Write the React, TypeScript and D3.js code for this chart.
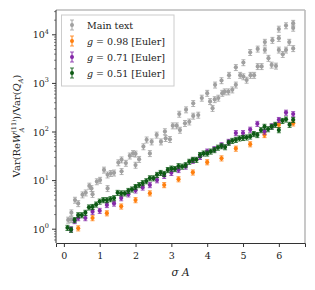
import { useRef, useEffect } from "react";
import * as d3 from "d3";

// gray "main text" points: [sigmaA, log10 ratio]
const mainX = [0.12, 0.21, 0.2, 0.31, 0.4, 0.52, 0.61, 0.71, 0.77, 0.8, 0.92, 1.01, 1.12, 1.22, 1.22, 1.31, 1.4, 1.52, 1.61, 1.61, 1.73, 1.84, 1.93, 2.0, 2.0, 2.1, 2.22, 2.31, 2.4, 2.45, 2.59, 2.71, 2.82, 2.84, 2.96, 3.04, 3.15, 3.24, 3.22, 3.41, 3.38, 3.5, 3.61, 3.61, 3.75, 3.85, 4.0, 4.08, 4.15, 4.21, 4.22, 4.31, 4.4, 4.42, 4.49, 4.61, 4.59, 4.7, 4.8, 4.8, 4.92, 5.01, 5.01, 5.1, 5.2, 5.21, 5.31, 5.41, 5.41, 5.52, 5.61, 5.61, 5.71, 5.82, 5.8, 5.92, 6.0, 6.0, 6.0, 6.11, 6.2, 6.2, 6.29, 6.4, 6.4, 6.4];
const mainLog = [0.19, 0.34, 0.2, 0.6, 0.53, 0.71, 0.75, 0.89, 0.84, 0.72, 0.98, 1.01, 1.22, 1.12, 0.84, 1.15, 1.16, 1.37, 1.43, 1.19, 1.36, 1.51, 1.56, 1.55, 1.32, 1.44, 1.7, 1.84, 1.56, 1.8, 1.94, 1.8, 2.01, 1.87, 1.85, 2.13, 2.13, 2.04, 2.37, 2.46, 2.18, 2.21, 2.59, 2.33, 2.35, 2.7, 2.8, 2.63, 2.49, 2.67, 2.97, 2.7, 3.06, 2.8, 2.83, 3.17, 2.83, 2.87, 2.97, 3.33, 3.17, 3.43, 3.14, 3.07, 3.64, 3.17, 3.17, 3.71, 3.35, 3.35, 3.85, 3.69, 3.52, 3.89, 3.38, 3.36, 4.12, 3.93, 3.69, 3.6, 4.19, 3.69, 3.85, 4.24, 4.14, 3.72];

// g = 0.98 [Euler]
const orangeX = [0.4, 0.8, 1.2, 1.6, 2.0, 2.4, 2.8, 3.2, 3.6, 4.0, 4.4, 4.8, 5.2, 5.6, 6.0, 6.4];
const orangeLog = [0.02, 0.23, 0.33, 0.47, 0.6, 0.74, 0.91, 1.03, 1.17, 1.38, 1.46, 1.66, 1.75, 1.94, 2.15, 2.18];

// g = 0.71 [Euler]
const purpleX = [0.2, 0.3, 0.4, 0.6, 0.8, 1.0, 1.2, 1.4, 1.6, 1.8, 2.0, 2.2, 2.4, 2.6, 2.8, 3.0, 3.2, 3.4, 3.6, 3.8, 4.0, 4.2, 4.4, 4.6, 4.8, 5.0, 5.2, 5.4, 5.6, 5.8, 6.0, 6.2, 6.4];
const purpleLog = [0.0, 0.17, 0.23, 0.23, 0.36, 0.38, 0.5, 0.53, 0.64, 0.72, 0.8, 0.86, 0.91, 1.01, 1.1, 1.16, 1.22, 1.29, 1.41, 1.49, 1.6, 1.65, 1.73, 1.8, 1.98, 1.98, 2.05, 2.17, 2.01, 2.12, 2.25, 2.4, 2.37];

// g = 0.51 [Euler]
const greenX = [0.1, 0.2, 0.3, 0.4, 0.5, 0.6, 0.7, 0.8, 0.9, 1.0, 1.1, 1.2, 1.3, 1.4, 1.5, 1.6, 1.7, 1.8, 1.9, 2.0, 2.1, 2.2, 2.3, 2.4, 2.5, 2.6, 2.7, 2.8, 2.9, 3.0, 3.1, 3.2, 3.3, 3.4, 3.5, 3.6, 3.7, 3.8, 3.9, 4.0, 4.1, 4.2, 4.3, 4.4, 4.5, 4.6, 4.7, 4.8, 4.9, 5.0, 5.1, 5.2, 5.3, 5.4, 5.5, 5.6, 5.7, 5.8, 5.9, 6.0, 6.1, 6.2, 6.3, 6.4];
const greenLog = [0.03, -0.01, 0.19, 0.29, 0.29, 0.34, 0.45, 0.46, 0.51, 0.57, 0.6, 0.6, 0.62, 0.64, 0.75, 0.74, 0.74, 0.79, 0.82, 0.87, 0.91, 0.95, 0.99, 1.05, 1.05, 1.12, 1.16, 1.14, 1.22, 1.25, 1.24, 1.3, 1.29, 1.32, 1.39, 1.43, 1.43, 1.53, 1.56, 1.56, 1.6, 1.63, 1.68, 1.71, 1.69, 1.78, 1.82, 1.84, 1.87, 1.88, 1.89, 1.91, 1.96, 1.94, 2.04, 2.11, 2.06, 2.11, 2.15, 2.04, 2.23, 2.26, 2.15, 2.25];

const seriesNames = ["Main text", "g = 0.98 [Euler]", "g = 0.71 [Euler]", "g = 0.51 [Euler]"];
const seriesColors = ["#a0a0a0", "#ff7f0e", "#8428a8", "#0d5a14"];
const relErr = [0.14, 0.12, 0.12, 0.12];

const xTicks = [0, 1, 2, 3, 4, 5, 6];
const yExps = [0, 1, 2, 3, 4];

const W = 315;
const H = 290;
const FONT = "'DejaVu Serif', serif";

export default function App() {
  const svgRef = useRef<SVGSVGElement>(null);

  useEffect(() => {
    if (!svgRef.current) return;
    const svg = d3.select(svgRef.current);
    svg.selectAll("*").remove();

    const m = { left: 56, right: 305, top: 10, bottom: 243 };
    const x = d3.scaleLinear().domain([-0.22, 6.73]).range([m.left, m.right]);
    const y = d3.scaleLog().domain([0.52, 32400]).range([m.bottom, m.top]);

    const series = [
      { xs: mainX, ls: mainLog },
      { xs: orangeX, ls: orangeLog },
      { xs: purpleX, ls: purpleLog },
      { xs: greenX, ls: greenLog },
    ];

    // data
    series.forEach((s, si) => {
      const g = svg.append("g").attr("fill", seriesColors[si]).attr("stroke", seriesColors[si]);
      s.xs.forEach((xv, i) => {
        const v = Math.pow(10, s.ls[i]);
        const cx = x(xv);
        const y0 = y(v * (1 - relErr[si]));
        const y1 = y(v * (1 + relErr[si]));
        g.append("line").attr("x1", cx).attr("x2", cx).attr("y1", y0).attr("y2", y1).attr("stroke-width", 1);
        g.append("line").attr("x1", cx - 2).attr("x2", cx + 2).attr("y1", y0).attr("y2", y0).attr("stroke-width", 0.8);
        g.append("line").attr("x1", cx - 2).attr("x2", cx + 2).attr("y1", y1).attr("y2", y1).attr("stroke-width", 0.8);
        g.append("circle").attr("cx", cx).attr("cy", y(v)).attr("r", 2.1).attr("stroke", "none");
      });
    });

    // frame: top/right light, left/bottom dark
    svg.append("line").attr("x1", m.left).attr("x2", m.right).attr("y1", m.top).attr("y2", m.top)
      .attr("stroke", "#bbbbbb").attr("stroke-width", 1.6);
    svg.append("line").attr("x1", m.right).attr("x2", m.right).attr("y1", m.top).attr("y2", m.bottom)
      .attr("stroke", "#bbbbbb").attr("stroke-width", 1.6);

    const xAxis = svg.append("g").attr("transform", `translate(0,${m.bottom})`)
      .call(d3.axisBottom(x).tickValues(xTicks).tickSize(4).tickFormat(d3.format("d")));
    xAxis.select(".domain").attr("stroke", "#333").attr("stroke-width", 1);
    xAxis.selectAll(".tick line").attr("stroke", "#333");
    xAxis.selectAll(".tick text").attr("font-family", FONT).attr("font-size", 9.5).attr("fill", "#222").attr("dy", "0.9em");

    const minorTicks: number[] = [];
    for (let e = -1; e <= 4; e++) {
      for (let k = 2; k <= 9; k++) {
        const v = k * Math.pow(10, e);
        if (v > 0.52 && v < 32400) minorTicks.push(v);
      }
    }
    const yAxisG = svg.append("g").attr("transform", `translate(${m.left},0)`);
    yAxisG.append("line").attr("x1", 0).attr("x2", 0).attr("y1", m.top).attr("y2", m.bottom).attr("stroke", "#333");
    minorTicks.forEach((v) => {
      yAxisG.append("line").attr("x1", -2).attr("x2", 0).attr("y1", y(v)).attr("y2", y(v)).attr("stroke", "#333").attr("stroke-width", 0.6);
    });
    yExps.forEach((e) => {
      const yy = y(Math.pow(10, e));
      yAxisG.append("line").attr("x1", -4).attr("x2", 0).attr("y1", yy).attr("y2", yy).attr("stroke", "#333");
      const t = yAxisG.append("text").attr("x", -7).attr("y", yy + 3.5).attr("text-anchor", "end")
        .attr("font-family", FONT).attr("font-size", 9.5).attr("fill", "#222");
      t.append("tspan").text("10");
      t.append("tspan").attr("dy", -4.5).attr("font-size", 6.5).text(String(e));
    });

    // x label
    const xl = svg.append("text").attr("x", (m.left + m.right) / 2).attr("y", 276).attr("text-anchor", "middle")
      .attr("font-family", FONT).attr("font-size", 10.5).attr("fill", "#222");
    xl.append("tspan").attr("font-style", "italic").text("σ A");

    // y label
    const yl = svg.append("text").attr("transform", `translate(20,126) rotate(-90)`)
      .attr("text-anchor", "middle").attr("font-family", FONT).attr("font-size", 10).attr("fill", "#222");
    yl.append("tspan").text("Var(Re");
    yl.append("tspan").attr("font-style", "italic").text("W");
    yl.append("tspan").attr("font-size", 6.5).attr("dy", -4.5).text("(11)");
    yl.append("tspan").attr("font-size", 6.5).attr("font-style", "italic").attr("dx", -13).attr("dy", 8).text("A");
    yl.append("tspan").attr("dy", -3.5).attr("dx", 8).text(")/Var(");
    yl.append("tspan").attr("font-style", "italic").text("Q");
    yl.append("tspan").attr("font-size", 6.5).attr("font-style", "italic").attr("dy", 2.5).text("A");
    yl.append("tspan").attr("dy", -2.5).text(")");

    // legend
    const lg = svg.append("g");
    lg.append("rect").attr("x", 61.5).attr("y", 15).attr("width", 112.5).attr("height", 71)
      .attr("fill", "white").attr("fill-opacity", 0.85).attr("stroke", "#cccccc").attr("stroke-width", 1);
    seriesNames.forEach((name, i) => {
      const ly = 25 + i * 16;
      const c = seriesColors[i];
      lg.append("line").attr("x1", 72).attr("x2", 72).attr("y1", ly - 5).attr("y2", ly + 5).attr("stroke", c);
      lg.append("line").attr("x1", 70).attr("x2", 74).attr("y1", ly - 5).attr("y2", ly - 5).attr("stroke", c).attr("stroke-width", 0.8);
      lg.append("line").attr("x1", 70).attr("x2", 74).attr("y1", ly + 5).attr("y2", ly + 5).attr("stroke", c).attr("stroke-width", 0.8);
      lg.append("circle").attr("cx", 72).attr("cy", ly).attr("r", 2).attr("fill", c);
      const t = lg.append("text").attr("x", 87).attr("y", ly + 3.5).attr("font-family", FONT)
        .attr("font-size", 9.5).attr("fill", "#222");
      if (i === 0) {
        t.text(name);
      } else {
        const parts = name.split(" = ");
        t.append("tspan").attr("font-style", "italic").text(parts[0]);
        t.append("tspan").text(" = " + parts[1]);
      }
    });
  }, []);

  return (
    <div style={{ margin: -8 }}>
      <svg ref={svgRef} width={W} height={H} style={{ display: "block" }} />
    </div>
  );
}
